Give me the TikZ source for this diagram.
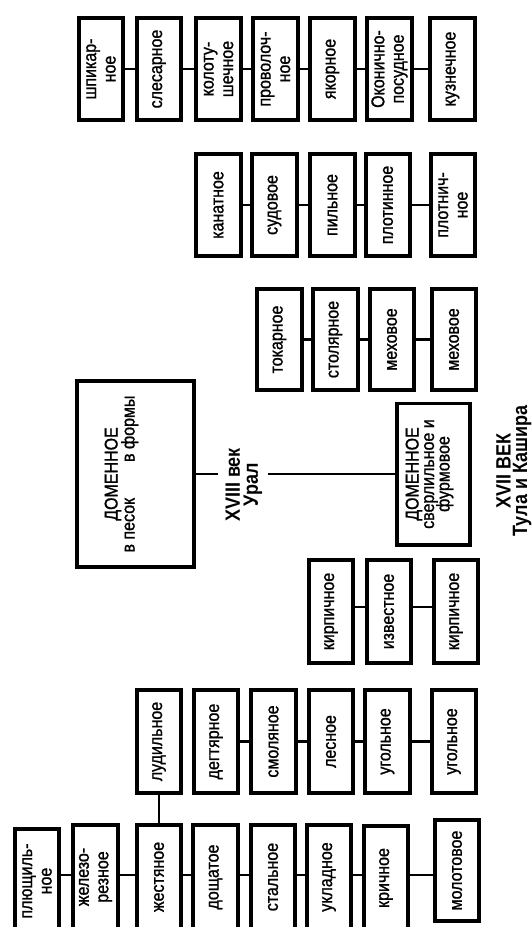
\documentclass[tikz,border=0pt]{standalone}
\usepackage{fontspec}
\setmainfont{Liberation Sans}
\newfontfamily\boxfont{Liberation Sans}[FakeBold=1.2]
\usepackage{graphicx}
\newcommand{\vtx}[2][19.5]{\rotatebox{90}{\scalebox{1}[1.15]{\vbox{\baselineskip=#1pt\divide\baselineskip by 115\multiply\baselineskip by 100\lineskiplimit=-\maxdimen\lineskip=0pt\let\\\cr\halign{\hfil##\hfil\cr#2\cr}}}}}
\begin{document}
\begin{tikzpicture}[x=1pt,y=-1pt,
  bx/.style={draw, line width=3.7pt, inner sep=0pt, minimum width=44.5pt, font=\boxfont\fontsize{16}{16}\selectfont},
  txt/.style={inner sep=0pt, font=\boxfont\fontsize{16}{16}\selectfont},
  ln/.style={line width=2.5pt},
  lbl/.style={font=\bfseries\fontsize{18}{16}\selectfont, inner sep=0pt}]
\clip (0,0) rectangle (531,927);
\fill[white] (0,0) rectangle (531,927);
% Row A
\begin{scope}[every node/.append style={minimum height=102.3pt}]
\node[bx] (a1) at (101,69) {\vtx{шпикар-\\ное}};
\node[bx] (a2) at (159,69) {\vtx{слесарное}};
\node[bx] (a3) at (218.5,69) {\vtx{колоту-\\шечное}};
\node[bx] (a4) at (275.5,69) {\vtx{проволоч-\\ное}};
\node[bx] (a5) at (332.5,69) {\vtx{якорное}};
\node[bx] (a6) at (389.5,69) {\vtx{Оконично-\\посудное}};
\node[bx] (a7) at (452.5,69) {\vtx{кузнечное}};
\end{scope}
\draw[ln] (a1)--(a2) (a2)--(a3) (a3)--(a4) (a4)--(a5) (a5)--(a6) (a6)--(a7);
% Row B
\begin{scope}[every node/.append style={minimum height=102.3pt}]
\node[bx] (b1) at (218.5,205) {\vtx{канатное}};
\node[bx] (b2) at (274.5,205) {\vtx{судовое}};
\node[bx] (b3) at (332.5,205) {\vtx{пильное}};
\node[bx] (b4) at (388,205) {\vtx{плотинное}};
\node[bx] (b5) at (453,205) {\vtx{плотнич-\\ное}};
\end{scope}
\draw[ln] (b1)--(b2) (b2)--(b3) (b3)--(b4) (b4)--(b5);
% Row C
\begin{scope}[every node/.append style={minimum height=101.3pt}]
\node[bx] (c1) at (279.5,339.5) {\vtx{токарное}};
\node[bx] (c2) at (335.5,339.5) {\vtx{столярное}};
\node[bx] (c3) at (392,339.5) {\vtx{меховое}};
\node[bx] (c4) at (454,339.5) {\vtx{меховое}};
\end{scope}
\draw[ln] (c1)--(c2) (c2)--(c3) (c3)--(c4);
% Blast furnace boxes
\node[bx, minimum width=117.3pt, minimum height=186.3pt] (d) at (135.5,474) {};
\node[txt] (dt) at ([xshift=-14pt]d.center) {\vtx[17]{ДОМЕННОЕ\\в песок\hspace{36pt}в формы}};
\node[bx, minimum width=73.3pt, minimum height=141.3pt] (e) at (433.5,474) {};
\node[txt] (et) at ([xshift=-4pt]e.center) {\vtx[15.5]{ДОМЕННОЕ\\сверлильное и\\фурмовое}};
\node[lbl] (u) at (244,485) {\vtx[18]{XVIII век\\Урал}};
\coordinate (l1) at (218,474);
\coordinate (l2) at (268,474);
\draw[ln] (d) -- (l1);
\draw[ln] (l2) -- (e);
\node[lbl] (t) at (514,471) {\vtx[16.5]{XVII ВЕК\\Тула и Кашира}};
% Row F
\begin{scope}[every node/.append style={minimum height=103.3pt}]
\node[bx] (f1) at (331,611.5) {\vtx{кирпичное}};
\node[bx] (f2) at (389,611.5) {\vtx{известное}};
\node[bx] (f3) at (456,611.5) {\vtx{кирпичное}};
\end{scope}
\draw[ln] ([yshift=4.5pt]f1.east) -- ([yshift=4.5pt]f2.west)
          ([yshift=4.5pt]f2.east) -- ([yshift=4.5pt]f3.west);
% Row G
\begin{scope}[every node/.append style={minimum height=103.3pt}]
\node[bx] (g1) at (159,741.5) {\vtx{лудильное}};
\node[bx] (g2) at (216,741.5) {\vtx{дегтярное}};
\node[bx] (g3) at (273.5,741.5) {\vtx{смоляное}};
\node[bx] (g4) at (331,741.5) {\vtx{лесное}};
\node[bx] (g5) at (387.5,741.5) {\vtx{угольное}};
\node[bx] (g6) at (454,741.5) {\vtx{угольное}};
\end{scope}
\draw[ln] (g2)--(g3) (g3)--(g4) (g4)--(g5) (g5)--(g6);
% Row H
\begin{scope}[every node/.append style={minimum height=104.3pt}]
\node[bx] (h1) at (37,881) {\vtx{плющиль-\\ное}};
\node[bx] (h2) at (95.5,877) {\vtx{железо-\\резное}};
\node[bx] (h3) at (159,877) {\vtx{жестяное}};
\node[bx] (h4) at (215.5,877) {\vtx{дощатое}};
\node[bx] (h5) at (273,877) {\vtx{стальное}};
\node[bx] (h6) at (329,877) {\vtx{укладное}};
\node[bx] (h7) at (386,878) {\vtx{кричное}};
\node[bx, minimum height=101.3pt] (h8) at (457,870.5) {\vtx{молотовое}};
\end{scope}
\coordinate (hy) at (0,875);
\draw[ln] (h1.east |- hy) -- (h2.west |- hy)
          (h2.east |- hy) -- (h3.west |- hy)
          (h3.east |- hy) -- (h4.west |- hy)
          (h4.east |- hy) -- (h5.west |- hy)
          (h5.east |- hy) -- (h6.west |- hy)
          (h6.east |- hy) -- (h7.west |- hy)
          (h7.east |- hy) -- (h8.west |- hy);
\draw[ln] (g1) -- (h3);
\end{tikzpicture}
\end{document}
